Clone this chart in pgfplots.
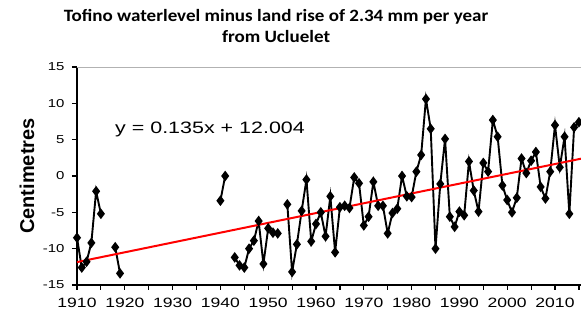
\documentclass[border=0pt]{standalone}
\usepackage{pgfplots}
\pgfplotsset{compat=1.18}
\usepackage{fontspec}
\setmainfont{Liberation Sans}
\newfontfamily\tickfont{Liberation Sans}[FakeStretch=1.3]
\newfontfamily\titlefont{Carlito}[FakeStretch=1.1]
\begin{document}
\begin{tikzpicture}
\begin{axis}[
  scale only axis, width=504pt, height=218pt,
  xmin=1910, xmax=2015.44, ymin=-15, ymax=15,
  axis x line*=bottom, axis y line*=left,
  axis line style={-, black, line width=1.6pt},
  xtick={1910,1920,...,2010}, minor xtick={1915,1925,...,2015},
  ytick={-15,-10,...,15},
  tick align=outside, major tick length=5pt, minor tick length=5pt,
  every tick/.style={black, line width=1.2pt},
  /pgf/number format/assume math mode=true,
  /pgf/number format/1000 sep={},
  x tick label style={font=\tickfont\fontsize{13.5}{14}\selectfont, yshift=-5pt},
  y tick label style={font=\tickfont\fontsize{11.5}{12}\selectfont, xshift=-4pt},
  ylabel={Centimetres},
  ylabel style={font=\bfseries\fontsize{20}{20}\selectfont, at={(rel axis cs:-0.0992,0.5)}, anchor=center},
  unbounded coords=jump,
]
\addplot[black, line width=1.9pt, mark=diamond*, mark size=3.8pt, mark options={solid}] coordinates {
(1910,-8.5) (1911,-12.6) (1912,-11.8) (1913,-9.2) (1914,-2.1) (1915,-5.2) (1916,nan)
(1918,-9.8) (1919,-13.4) (1920,nan)
(1940,-3.4) (1941,0.0) (1942,nan)
(1943,-11.2) (1944,-12.3) (1945,-12.6) (1946,-10.0) (1947,-8.9) (1948,-6.2) (1949,-12.1)
(1950,-7.2) (1951,-7.8) (1952,-7.9) (1953,nan)
(1954,-3.9) (1955,-13.2) (1956,-9.4) (1957,-4.8) (1958,-0.5) (1959,-9.0)
(1960,-6.6) (1961,-5.0) (1962,-8.3) (1963,-2.8) (1964,-10.5) (1965,-4.3) (1966,-4.1) (1967,-4.4) (1968,-0.2) (1969,-1.0)
(1970,-6.8) (1971,-5.6) (1972,-0.8) (1973,-4.1) (1974,-4.1) (1975,-7.9) (1976,-5.1) (1977,-4.5) (1978,0.0) (1979,-2.8)
(1980,-2.9) (1981,0.6) (1982,2.9) (1983,10.6) (1984,6.5) (1985,-10.0) (1986,-1.1) (1987,5.1) (1988,-5.6) (1989,-7.0)
(1990,-4.9) (1991,-5.4) (1992,2.0) (1993,-2.0) (1994,-4.9) (1995,1.8) (1996,0.6) (1997,7.7) (1998,5.4) (1999,-1.3)
(2000,-3.3) (2001,-5.0) (2002,-3.0) (2003,2.4) (2004,0.4) (2005,2.1) (2006,3.3) (2007,-1.5) (2008,-3.1) (2009,0.6)
(2010,7.0) (2011,1.2) (2012,5.4) (2013,-5.2) (2014,6.7) (2015,7.4)
};
\addplot[red, line width=2pt, no marks] coordinates {(1910,-11.85) (2015.44,2.38)};
\draw[gray!60, line width=0.8pt] (rel axis cs:0,1) -- (rel axis cs:1,1);
\node[anchor=base west, inner sep=0pt, font=\tickfont\fontsize{16.5}{16.5}\selectfont] at (axis cs:1917.95,5.9) {y = 0.135x + 12.004};
\coordinate (tt) at (rel axis cs:0.395,1.188);
\coordinate (ll) at (rel axis cs:0,0);
\coordinate (ur) at (rel axis cs:1,1);
\end{axis}
\node[align=center, font=\titlefont\bfseries\fontsize{17.3}{21}\selectfont] at (tt) {Tofino waterlevel minus land rise of 2.34 mm per year\\from Ucluelet};
\pgfresetboundingbox
\path[use as bounding box] ([xshift=-77pt,yshift=-32pt]ll) rectangle ([yshift=67pt]ur);
\end{tikzpicture}
\end{document}
